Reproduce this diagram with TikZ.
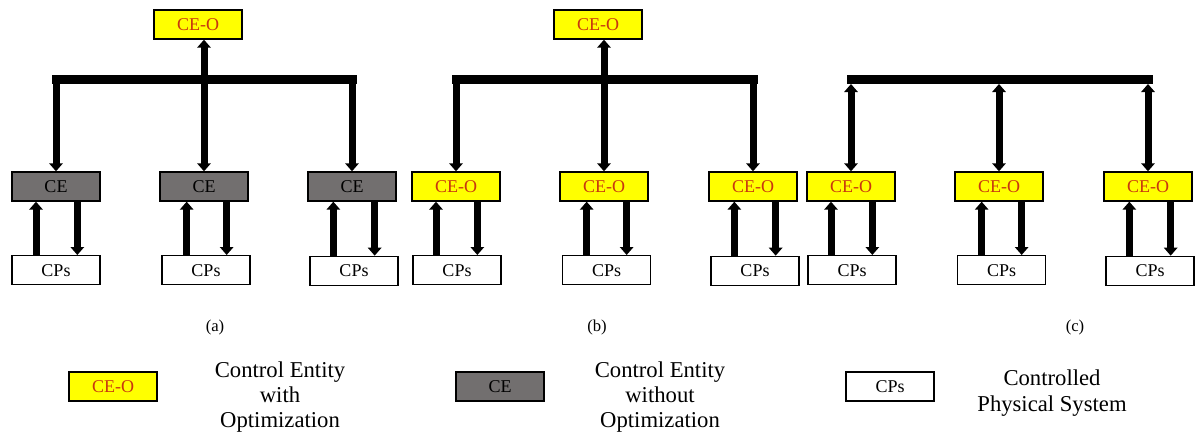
\documentclass[tikz,border=0pt]{standalone}
\usepackage{fontspec}
\setmainfont{Liberation Serif}
\usetikzlibrary{arrows.meta,positioning}
\definecolor{ceoyellow}{RGB}{255,255,0}
\definecolor{ceotext}{RGB}{200,55,15}
\definecolor{cegray}{RGB}{114,111,111}

\begin{document}
\begin{tikzpicture}[x=0.75pt,y=-0.75pt,
  ceo/.style={draw,line width=1pt,fill=ceoyellow,text=ceotext,minimum width=66pt,minimum height=21.75pt,inner sep=0pt,font=\fontsize{13.5}{15}\selectfont},
  ce/.style={ceo,fill=cegray,text=black},
  cps/.style={ceo,fill=white,text=black},
  bus/.style={line width=6.75pt,line cap=rect},
  arr/.style={line width=5.25pt,-{Triangle[length=6pt,width=10pt]}},
  darr/.style={line width=5.25pt,{Triangle[length=6pt,width=10pt]}-{Triangle[length=6pt,width=10pt]}},
  legtext/.style={align=center,font=\fontsize{17}{19}\selectfont},
  sublabel/.style={font=\fontsize{12.5}{14}\selectfont}]

\useasboundingbox (0,0) rectangle (1195,435);

%%%%%%%%%%%%%%%%%%%%%%%%%% (a)
\node [ceo] (topA) at (198,24.5) {CE-O};
\node [ce] (ceA1) at (56,186.5) {CE};
\node [ce] (ceA2) at (204,186.5) {CE};
\node [ce] (ceA3) at (352,186.5) {CE};
\node [cps,anchor=north] (cpsA1) at ([yshift=-40pt]ceA1.south) {CPs};
\node [cps,anchor=north] (cpsA2) at ([xshift=1.5pt,yshift=-40pt]ceA2.south) {CPs};
\node [cps,anchor=north] (cpsA3) at ([xshift=1.5pt,yshift=-40.5pt]ceA3.south) {CPs};
\coordinate (busA) at (0,79.5);
\draw [bus] (ceA1.north |- busA) -- (ceA3.north |- busA);
\draw [arr] (ceA2.north |- busA) -- ([xshift=4.5pt]topA.south);
\draw [arr] (ceA1.north |- busA) -- (ceA1.north);
\draw [arr] (ceA2.north |- busA) -- (ceA2.north);
\draw [arr] (ceA3.north |- busA) -- (ceA3.north);
\draw [arr] ([xshift=-15pt]ceA1.south |- cpsA1.north) -- ([xshift=-15pt]ceA1.south);
\draw [arr] ([xshift=16pt]ceA1.south) -- ([xshift=16pt]ceA1.south |- cpsA1.north);
\draw [arr] ([xshift=-13pt]ceA2.south |- cpsA2.north) -- ([xshift=-13pt]ceA2.south);
\draw [arr] ([xshift=17pt]ceA2.south) -- ([xshift=17pt]ceA2.south |- cpsA2.north);
\draw [arr] ([xshift=-14pt]ceA3.south |- cpsA3.north) -- ([xshift=-14pt]ceA3.south);
\draw [arr] ([xshift=17pt]ceA3.south) -- ([xshift=17pt]ceA3.south |- cpsA3.north);
\node [sublabel] (capA) at (215,327) {(a)};

%%%%%%%%%%%%%%%%%%%%%%%%%% (b)
\node [ceo] (topB) at (598,24.5) {CE-O};
\node [ceo] (ceB1) at (456,186.5) {CE-O};
\node [ceo] (ceB2) at (604,186.5) {CE-O};
\node [ceo] (ceB3) at (753,186.5) {CE-O};
\node [cps,anchor=north] (cpsB1) at ([xshift=0.75pt,yshift=-40pt]ceB1.south) {CPs};
\node [cps,anchor=north] (cpsB2) at ([xshift=2pt,yshift=-40pt]ceB2.south) {CPs};
\node [cps,anchor=north] (cpsB3) at ([xshift=1.5pt,yshift=-40.5pt]ceB3.south) {CPs};
\coordinate (busB) at (0,79.5);
\draw [bus] (ceB1.north |- busB) -- (ceB3.north |- busB);
\draw [arr] (ceB2.north |- busB) -- ([xshift=4.5pt]topB.south);
\draw [arr] (ceB1.north |- busB) -- (ceB1.north);
\draw [arr] (ceB2.north |- busB) -- (ceB2.north);
\draw [arr] (ceB3.north |- busB) -- (ceB3.north);
\draw [arr] ([xshift=-15pt]ceB1.south |- cpsB1.north) -- ([xshift=-15pt]ceB1.south);
\draw [arr] ([xshift=16pt]ceB1.south) -- ([xshift=16pt]ceB1.south |- cpsB1.north);
\draw [arr] ([xshift=-13pt]ceB2.south |- cpsB2.north) -- ([xshift=-13pt]ceB2.south);
\draw [arr] ([xshift=17pt]ceB2.south) -- ([xshift=17pt]ceB2.south |- cpsB2.north);
\draw [arr] ([xshift=-14pt]ceB3.south |- cpsB3.north) -- ([xshift=-14pt]ceB3.south);
\draw [arr] ([xshift=17pt]ceB3.south) -- ([xshift=17pt]ceB3.south |- cpsB3.north);
\node [sublabel] (capB) at (597,327) {(b)};

%%%%%%%%%%%%%%%%%%%%%%%%%% (c)
\node [ceo] (ceC1) at (851,186.5) {CE-O};
\node [ceo] (ceC2) at (999,186.5) {CE-O};
\node [ceo] (ceC3) at (1148,186.5) {CE-O};
\node [cps,anchor=north] (cpsC1) at ([xshift=0.75pt,yshift=-40pt]ceC1.south) {CPs};
\node [cps,anchor=north] (cpsC2) at ([xshift=2pt,yshift=-40pt]ceC2.south) {CPs};
\node [cps,anchor=north] (cpsC3) at ([xshift=1.5pt,yshift=-40.5pt]ceC3.south) {CPs};
\coordinate (busC) at (0,79.5);
\coordinate (busCb) at (0,84);
\draw [bus] (ceC1.north |- busC) -- (ceC3.north |- busC);
\draw [darr] (ceC1.north |- busCb) -- (ceC1.north);
\draw [darr] (ceC2.north |- busCb) -- (ceC2.north);
\draw [darr] (ceC3.north |- busCb) -- (ceC3.north);
\draw [arr] ([xshift=-15pt]ceC1.south |- cpsC1.north) -- ([xshift=-15pt]ceC1.south);
\draw [arr] ([xshift=16pt]ceC1.south) -- ([xshift=16pt]ceC1.south |- cpsC1.north);
\draw [arr] ([xshift=-13pt]ceC2.south |- cpsC2.north) -- ([xshift=-13pt]ceC2.south);
\draw [arr] ([xshift=17pt]ceC2.south) -- ([xshift=17pt]ceC2.south |- cpsC2.north);
\draw [arr] ([xshift=-14pt]ceC3.south |- cpsC3.north) -- ([xshift=-14pt]ceC3.south);
\draw [arr] ([xshift=17pt]ceC3.south) -- ([xshift=17pt]ceC3.south |- cpsC3.north);
\node [sublabel] (capC) at (1075,327) {(c)};

%%%%%%%%%%%%%%%%%%%%%%%%%% legend
\node [ceo] (legCeo) at (113,386.5) {CE-O};
\node [legtext] (legCeoT) at (280,397) {Control Entity\\with\\Optimization};
\node [ce] (legCe) at (500,386.5) {CE};
\node [legtext] (legCeT) at (660,397) {Control Entity\\without\\Optimization};
\node [cps] (legCps) at (890,386.5) {CPs};
\node [legtext] (legCpsT) at (1052,393) {Controlled\\Physical System};

\end{tikzpicture}
\end{document}
